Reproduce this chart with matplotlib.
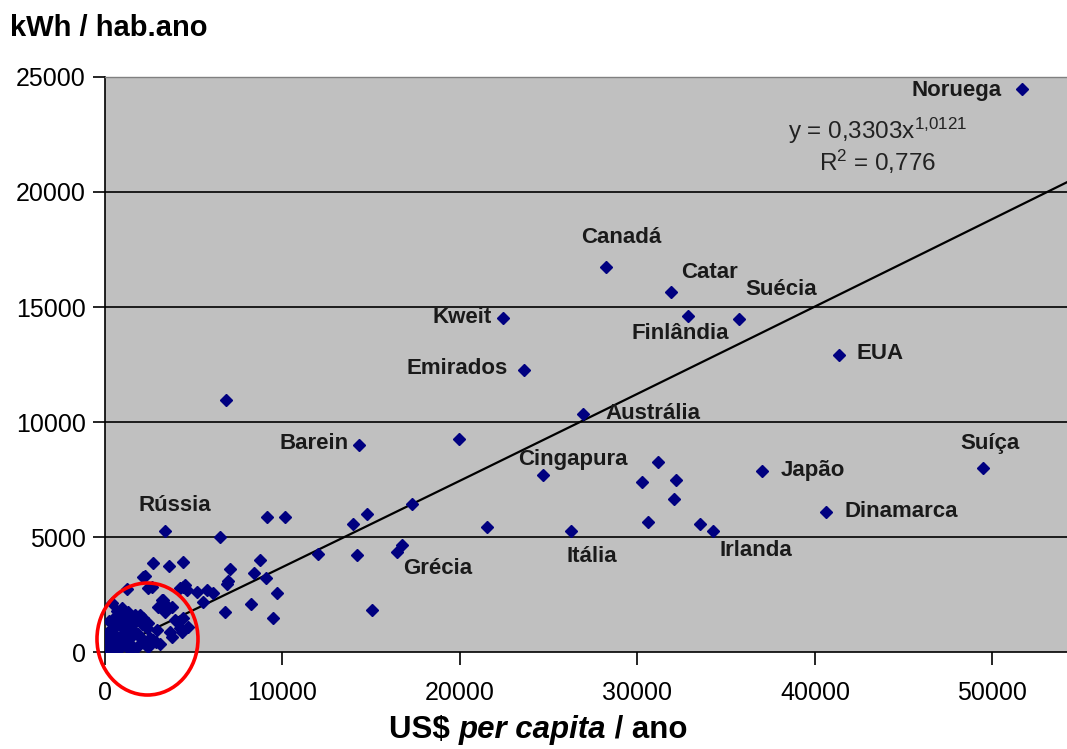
#!/usr/bin/env python
"""
Consumo de eletricidade vs. renda per capita (dispersao com tendencia de potencia).
"""

import matplotlib
matplotlib.use("Agg")
import matplotlib.pyplot as plt
import numpy as np
from matplotlib.patches import Ellipse

plt.rcParams['font.family'] = ['Liberation Sans', 'DejaVu Sans']
plt.rcParams['mathtext.fontset'] = 'custom'
plt.rcParams['mathtext.rm'] = 'Liberation Sans'
plt.rcParams['mathtext.it'] = 'Liberation Sans:italic'
plt.rcParams['mathtext.bf'] = 'Liberation Sans:bold'

# Labelled countries: US$ per capita, kWh per inhabitant
countries = ["Noruega", "Canadá", "Catar", "Suécia", "Kweit", "Finlândia",
             "EUA", "Emirados", "Austrália", "Barein", "Suíça", "Cingapura",
             "Japão", "Rússia", "Dinamarca", "Irlanda", "Itália", "Grécia"]
country_gdp = [51660, 28225, 31887, 35718, 22423, 32845,
               41352, 23606, 26930, 14310, 49465, 24676,
               37014, 3363, 40620, 34237, 26235, 16715]
country_kwh = [24478, 16740, 15652, 14478, 14522, 14609,
               12913, 12261, 10348, 8987, 8000, 7696,
               7870, 5261, 6087, 5261, 5261, 4652]

# Other countries (unlabelled)
other_gdp = [6817, 19944, 31172, 30254, 32169, 32056, 30574, 33521,
             21504, 17313, 16469, 9127, 10124, 6479, 13972, 14743,
             12019, 14197, 2723, 3625, 4414, 2272, 7023, 8751, 8376,
             9051, 6854, 6911, 9671, 8225, 6741, 9446, 15060, 4414,
             5164, 5728, 6103, 5540, 2441, 1221, 3287, 3756,
             2160, 2630, 4225, 4600, 3192, 376, 939, 3000, 3563, 3380,
             563, 1221, 1690, 2160, 3944, 4414, 470, 1033, 1596, 2347,
             2910, 3662, 4695, 845, 1408, 1972, 2535, 3756, 4225, 470,
             1033, 1784, 282, 2441, 659, 94, 1408, 2441, 845, 188, 2160,
             1315, 94, 4507, 4320, 1850, 2900, 600, 1250, 3100, 2000,
             300, 700, 1100, 1500, 1900, 2300, 2700, 500, 900, 1300,
             1700, 2100, 250, 650, 1050]
other_kwh = [10957, 9260, 8248, 7378, 7492, 6652, 5639, 5565,
             5448, 6435, 4335, 5857, 5883, 5013, 5565, 6000,
             4248, 4217, 3857, 3739, 3926, 3304, 3596, 3987, 3435,
             3231, 2957, 3074, 2552, 2087, 1726, 1465, 1826, 2813,
             2622, 2696, 2552, 2187, 2770, 2726, 2261, 1970,
             3275, 2840, 2770, 2696, 2261, 2117, 1900, 1970, 1970, 1752,
             1535, 1391, 1317, 1465, 1391, 1465, 1030, 1030, 957, 1030,
             957, 883, 1100, 665, 596, 665, 596, 665, 1030, 378,
             304, 230, 161, 230, 60, 40, 100, 1248, 1317, 522, 448,
             1752, 813, 2913, 883, 800, 450, 1150, 1100, 350, 1600,
             250, 150, 420, 280, 700, 300, 520, 800, 1150, 760,
             1600, 1200, 1350, 1800, 1650]

# Power trend y = a * x^b
trend_a = 0.3303
trend_b = 1.0121

# label offsets in pixels (dx, dy, ha)
label_offsets = {
    "Noruega": (-20, -1, 'right'), "Canadá": (15, 29, 'center'),
    "Catar": (10, 20, 'left'), "Suécia": (6, 30, 'left'),
    "Kweit": (-11, 0, 'right'), "Finlândia": (-8, -18, 'center'),
    "EUA": (18, 2, 'left'), "Emirados": (-16, 1, 'right'),
    "Austrália": (22, 0, 'left'), "Barein": (-10, 2, 'right'),
    "Suíça": (7, 25, 'center'), "Cingapura": (30, 15, 'center'),
    "Japão": (19, 0, 'left'), "Rússia": (10, 25, 'center'),
    "Dinamarca": (19, 1, 'left'), "Irlanda": (43, -20, 'center'),
    "Itália": (21, -26, 'center'), "Grécia": (36, -23, 'center'),
}

fig = plt.figure(figsize=(10.67, 7.49), dpi=100)
ax = fig.add_axes([0.0984, 0.1295, 0.9016, 0.7677])
ax.set_facecolor('#C0C0C0')

ax.set_xlim(0, 54200)
ax.set_ylim(0, 25000)

# Horizontal gridlines
for yv in [5000, 10000, 15000, 20000]:
    ax.axhline(yv, color='black', lw=1.2, zorder=1)

# Trend line
xs = np.linspace(1, 54200, 300)
ax.plot(xs, trend_a * xs ** trend_b, color='black', lw=1.6, zorder=2)

# Points
ax.plot(other_gdp, other_kwh, 'D', color='#000080', ms=6.3, mec='#000080', zorder=3)
ax.plot(country_gdp, country_kwh, 'D', color='#000080', ms=6.0, mec='#000080', zorder=3)

# Country labels
for name, gx, ky in zip(countries, country_gdp, country_kwh):
    dx, dy, ha = label_offsets[name]
    ax.annotate(name, (gx, ky), xytext=(dx, dy), textcoords='offset pixels',
                ha=ha, va='center', fontsize=16, fontweight='bold',
                color='#1a1a1a', zorder=4)

# Equation
ax.text(0.803, 0.907, r"y = 0,3303x$^{1{,}0121}$", transform=ax.transAxes,
        ha='center', va='center', fontsize=17.5, color='#222222')
ax.text(0.803, 0.852, r"R$^{2}$ = 0,776", transform=ax.transAxes,
        ha='center', va='center', fontsize=17.5, color='#222222')

# Red circle around the dense cluster
circle = Ellipse((2394, 565), 5690, 4870, fill=False, edgecolor='#FF0000',
                 lw=2.6, clip_on=False, zorder=5)
ax.add_patch(circle)

# Axes styling
ax.spines['right'].set_visible(False)
ax.spines['top'].set_color('#808080')
ax.spines['top'].set_linewidth(1.0)
ax.spines['left'].set_linewidth(1.2)
ax.spines['bottom'].set_linewidth(1.2)
ax.set_xticks([0, 10000, 20000, 30000, 40000, 50000])
ax.set_yticks([0, 5000, 10000, 15000, 20000, 25000])
ax.tick_params(axis='y', direction='out', length=9, width=1.2, pad=5, labelsize=18)
ax.tick_params(axis='x', direction='out', length=9, width=1.2, pad=12, labelsize=18)

# Titles
fig.text(0.0094, 0.962, "kWh / hab.ano", ha='left', va='center',
         fontsize=21, fontweight='bold')

xlab_size = 22.5
t1 = fig.text(0.365, 0.006, "US$ ", ha='left', va='bottom', fontsize=xlab_size, fontweight='bold')
fig.canvas.draw()
bb = t1.get_window_extent()
t2 = fig.text(0, 0, "per capita", fontsize=xlab_size, fontweight='bold', fontstyle='italic',
              va='bottom', ha='left')
t2.set_transform(None)
t2.set_position((bb.x1, bb.y0))
fig.canvas.draw()
bb2 = t2.get_window_extent()
t3 = fig.text(0, 0, " / ano", fontsize=xlab_size, fontweight='bold', va='bottom', ha='left')
t3.set_transform(None)
t3.set_position((bb2.x1, bb.y0))

plt.savefig("out.png", dpi=100)
plt.close()
